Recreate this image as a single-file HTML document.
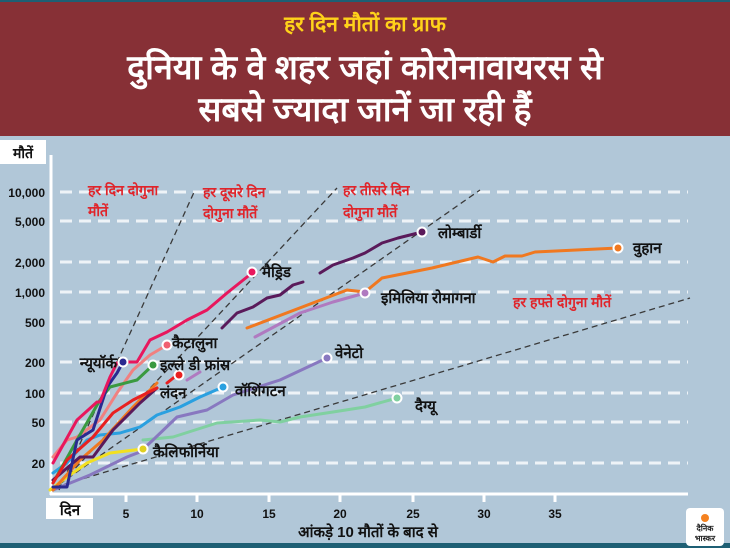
<!DOCTYPE html>
<html><head><meta charset="utf-8"><style>
body{margin:0;width:730px;height:548px;overflow:hidden;background:#b1c7d8;font-family:"Liberation Sans","Noto Sans CJK SC",sans-serif}
</style></head><body>
<svg width="730" height="548" xmlns="http://www.w3.org/2000/svg" style="position:absolute;left:0;top:0;font-family:'Liberation Sans','Noto Sans CJK SC',sans-serif">
<rect x="0" y="0" width="730" height="548" fill="#b1c7d8"/>
<rect x="0" y="0" width="730" height="2" fill="#1e5f74"/>
<rect x="0" y="2" width="730" height="134" fill="#873036"/>
<text x="365" y="31" fill="#ffd21a" font-size="21" font-weight="bold" text-anchor="middle">हर दिन मौतों का ग्राफ</text>
<text x="365" y="79" fill="#fff" font-size="34" font-weight="bold" text-anchor="middle">दुनिया के वे शहर जहां कोरोनावायरस से</text>
<text x="365" y="121" fill="#fff" font-size="34" font-weight="bold" text-anchor="middle">सबसे ज्यादा जानें जा रही हैं</text>
<rect x="0" y="543" width="730" height="5" fill="#1e5f74"/>
<g stroke="#eef3f7" stroke-width="3" stroke-dasharray="12,7">
<line x1="60" y1="192" x2="688" y2="192"/><line x1="60" y1="221" x2="688" y2="221"/>
<line x1="60" y1="262" x2="688" y2="262"/><line x1="60" y1="292" x2="688" y2="292"/>
<line x1="60" y1="322" x2="688" y2="322"/><line x1="60" y1="362" x2="688" y2="362"/>
<line x1="60" y1="393" x2="688" y2="393"/><line x1="60" y1="422" x2="688" y2="422"/>
<line x1="60" y1="463" x2="688" y2="463"/>
</g>
<g stroke="#fff" stroke-width="3"><line x1="51" y1="155" x2="51" y2="495"/><line x1="50" y1="494" x2="688" y2="494"/>
<line x1="126" y1="494" x2="126" y2="502"/><line x1="197" y1="494" x2="197" y2="502"/><line x1="269" y1="494" x2="269" y2="502"/><line x1="340" y1="494" x2="340" y2="502"/><line x1="413" y1="494" x2="413" y2="502"/><line x1="484" y1="494" x2="484" y2="502"/><line x1="555" y1="494" x2="555" y2="502"/></g>
<g font-size="12" font-weight="bold" fill="#111" text-anchor="end">
<text x="45" y="197">10,000</text><text x="45" y="226">5,000</text><text x="45" y="267">2,000</text><text x="45" y="297">1,000</text><text x="45" y="327">500</text><text x="45" y="367">200</text><text x="45" y="398">100</text><text x="45" y="427">50</text><text x="45" y="468">20</text></g>
<g font-size="12" font-weight="bold" fill="#111" text-anchor="middle">
<text x="126" y="518">5</text><text x="197" y="518">10</text><text x="269" y="518">15</text><text x="340" y="518">20</text><text x="413" y="518">25</text><text x="484" y="518">30</text><text x="555" y="518">35</text></g>
<rect x="0" y="140" width="46" height="24" fill="#fff"/><text x="23" y="158" font-size="14" font-weight="bold" text-anchor="middle" fill="#111">मौतें</text>
<rect x="46" y="498" width="47" height="21" fill="#fff"/><text x="70" y="515" font-size="15" font-weight="bold" text-anchor="middle" fill="#111">दिन</text>
<text x="368" y="537" font-size="15" font-weight="bold" text-anchor="middle" fill="#111">आंकड़े 10 मौतों के बाद से</text>
<rect x="686" y="508" width="38" height="38" rx="4" fill="#fff"/><circle cx="705" cy="518" r="4" fill="#f58220"/>
<text x="705" y="531" font-size="8" font-weight="bold" text-anchor="middle" fill="#222">दैनिक</text><text x="705" y="541" font-size="8" font-weight="bold" text-anchor="middle" fill="#222">भास्कर</text>
<g stroke="#3a3a3a" stroke-width="1.3" stroke-dasharray="6,4" fill="none">
<line x1="59" y1="490" x2="195" y2="190"/><line x1="55" y1="490" x2="337" y2="188"/>
<line x1="51" y1="490" x2="480" y2="190"/><line x1="55" y1="487" x2="690" y2="298"/></g>
<g font-size="14" font-weight="bold" fill="#e0242a">
<text x="88" y="195">हर दिन दोगुना</text><text x="88" y="216">मौतें</text>
<text x="203" y="197">हर दूसरे दिन</text><text x="203" y="218">दोगुना मौतें</text>
<text x="343" y="195">हर तीसरे दिन</text><text x="343" y="217">दोगुना मौतें</text>
<text x="513" y="307">हर हफ्ते दोगुना मौतें</text></g>
<g fill="none" stroke-width="3" stroke-linejoin="round" stroke-linecap="round">
<polyline stroke="#80d0a0" points="143,440 173,437 217,423 260,420 280,422 300,417 333,412 365,407 397,398"/>
<polyline stroke="#8878c0" points="53,490 90,475 127,457 140,452 153,440 177,417 207,410 233,395 280,380 327,358"/>
<polyline stroke="#b07ac0" points="255,337 300,313 333,302 365,293"/>
<polyline stroke="#b07ac0" points="187,380 200,372"/>
<polyline stroke="#f07820" points="247,328 347,290 365,292 382,278 432,268 478,257 493,262 505,256 522,256 535,252 618,248"/>
<polyline stroke="#5a1a5a" points="222,328 237,313 253,307 267,298 280,295 293,285 303,282"/>
<polyline stroke="#5a1a5a" points="320,273 333,265 353,258 365,253 382,243 398,238 422,232"/>
<polyline stroke="#f2e020" points="50,490 67,477 87,463 110,453 143,449"/>
<polyline stroke="#2aa0e0" points="53,473 67,463 87,440 100,435 120,433 140,427 157,415 180,407 200,397 223,387"/>
<polyline stroke="#f08080" points="53,457 67,440 77,437 100,420 117,393 133,370 150,355 167,345"/>
<polyline stroke="#3a9a40" points="53,483 77,440 100,400 110,387 137,380 153,365"/>
<polyline stroke="#f07820" points="53,490 80,460 103,440 133,407 157,383"/>
<polyline stroke="#5a1a5a" points="53,480 80,457 93,457 113,430 140,403 157,388"/>
<polyline stroke="#e82020" points="53,483 67,460 93,437 113,413 133,400 157,388"/>
<polyline stroke="#e82020" points="167,383 177,375"/>
<polyline stroke="#2a2a90" points="53,487 67,487 77,440 93,430 107,387 117,373 123,362"/>
<polyline stroke="#e8175d" points="53,463 77,420 97,402 100,402 110,377 117,363 123,362 137,362 150,340 167,332 187,320 207,310 227,293 252,273"/>
</g>
<g stroke="#fff" stroke-width="2">
<circle cx="252" cy="272" r="4.5" fill="#e8175d"/><circle cx="422" cy="232" r="4.5" fill="#5a1a5a"/><circle cx="618" cy="248" r="4.5" fill="#f07820"/><circle cx="365" cy="293" r="4.5" fill="#b07ac0"/><circle cx="327" cy="358" r="4.5" fill="#8878c0"/><circle cx="223" cy="387" r="4.5" fill="#2aa0e0"/><circle cx="397" cy="398" r="4.5" fill="#80d0a0"/><circle cx="143" cy="449" r="4.5" fill="#e0d020"/><circle cx="123" cy="362" r="4.5" fill="#2a2a90"/><circle cx="167" cy="345" r="4.5" fill="#f06070"/><circle cx="153" cy="365" r="4.5" fill="#3a9a40"/><circle cx="179" cy="375" r="4.5" fill="#e82020"/></g>
<g font-size="15" font-weight="bold" fill="#111">
<text x="262" y="277">मैड्रिड</text><text x="438" y="238">लोम्बार्डी</text><text x="633" y="253">वुहान</text><text x="381" y="303">इमिलिया रोमागना</text><text x="335" y="358">वेनेटो</text><text x="235" y="396">वॉशिंगटन</text><text x="415" y="411">दैग्यू</text><text x="153" y="457">कैलिफोर्निया</text><text x="117" y="368" text-anchor="end">न्यूयॉर्क</text><text x="172" y="348">कैटालुना</text><text x="160" y="370">इल्ले डी फ्रांस</text><text x="160" y="398">लंदन</text></g>
</svg>
</body></html>
